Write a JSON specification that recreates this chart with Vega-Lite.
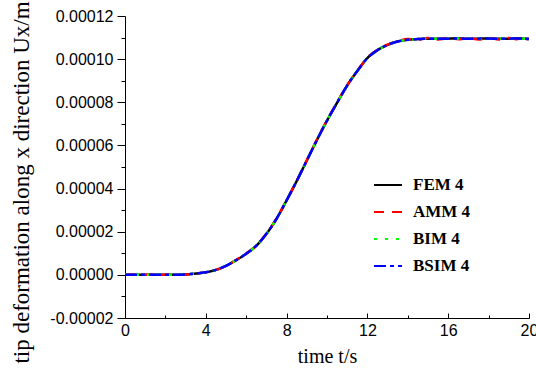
{
  "$schema": "https://vega.github.io/schema/vega-lite/v6.json",
  "width": 404,
  "height": 302,
  "autosize": {"type": "none"},
  "padding": {"left": 125, "top": 16, "right": 7, "bottom": 58},
  "background": "white",
  "config": {
    "view": {"stroke": null},
    "axis": {
      "domainColor": "black",
      "domainWidth": 1,
      "tickColor": "black",
      "tickWidth": 1,
      "labelColor": "black",
      "labelFont": "Liberation Sans",
      "labelFontSize": 16,
      "titleFont": "Liberation Serif",
      "titleFontWeight": "normal",
      "titleColor": "black",
      "grid": false
    }
  },
  "data": {
    "values": [
      {"t": 0, "FEM 4": 0, "AMM 4": 0, "BIM 4": 0, "BSIM 4": 0},
      {"t": 0.5, "FEM 4": 0, "AMM 4": 0, "BIM 4": 0, "BSIM 4": 0},
      {"t": 1, "FEM 4": 0, "AMM 4": 0, "BIM 4": 0, "BSIM 4": 0},
      {"t": 1.5, "FEM 4": 0, "AMM 4": 0, "BIM 4": 0, "BSIM 4": 0},
      {"t": 2, "FEM 4": 0, "AMM 4": 0, "BIM 4": 0, "BSIM 4": 0},
      {"t": 2.5, "FEM 4": 5e-8, "AMM 4": 5e-8, "BIM 4": 5e-8, "BSIM 4": 5e-8},
      {"t": 3, "FEM 4": 2e-7, "AMM 4": 2e-7, "BIM 4": 2e-7, "BSIM 4": 2e-7},
      {"t": 3.5, "FEM 4": 6e-7, "AMM 4": 6e-7, "BIM 4": 6e-7, "BSIM 4": 6e-7},
      {"t": 4, "FEM 4": 1.2e-6, "AMM 4": 1.2e-6, "BIM 4": 1.2e-6, "BSIM 4": 1.2e-6},
      {"t": 4.5, "FEM 4": 2.3e-6, "AMM 4": 2.3e-6, "BIM 4": 2.3e-6, "BSIM 4": 2.3e-6},
      {"t": 5, "FEM 4": 4.2e-6, "AMM 4": 4.2e-6, "BIM 4": 4.2e-6, "BSIM 4": 4.2e-6},
      {"t": 5.5, "FEM 4": 6.8e-6, "AMM 4": 6.9e-6, "BIM 4": 6.8e-6, "BSIM 4": 6.8e-6},
      {"t": 6, "FEM 4": 9.8e-6, "AMM 4": 9.9e-6, "BIM 4": 9.8e-6, "BSIM 4": 9.8e-6},
      {"t": 6.5, "FEM 4": 1.35e-5, "AMM 4": 1.36e-5, "BIM 4": 1.35e-5, "BSIM 4": 1.35e-5},
      {"t": 7, "FEM 4": 1.90e-5, "AMM 4": 1.91e-5, "BIM 4": 1.90e-5, "BSIM 4": 1.90e-5},
      {"t": 7.5, "FEM 4": 2.60e-5, "AMM 4": 2.61e-5, "BIM 4": 2.60e-5, "BSIM 4": 2.60e-5},
      {"t": 8, "FEM 4": 3.45e-5, "AMM 4": 3.46e-5, "BIM 4": 3.45e-5, "BSIM 4": 3.45e-5},
      {"t": 8.5, "FEM 4": 4.35e-5, "AMM 4": 4.36e-5, "BIM 4": 4.35e-5, "BSIM 4": 4.35e-5},
      {"t": 9, "FEM 4": 5.30e-5, "AMM 4": 5.31e-5, "BIM 4": 5.30e-5, "BSIM 4": 5.30e-5},
      {"t": 9.5, "FEM 4": 6.25e-5, "AMM 4": 6.26e-5, "BIM 4": 6.25e-5, "BSIM 4": 6.25e-5},
      {"t": 10, "FEM 4": 7.15e-5, "AMM 4": 7.16e-5, "BIM 4": 7.15e-5, "BSIM 4": 7.15e-5},
      {"t": 10.5, "FEM 4": 7.98e-5, "AMM 4": 7.99e-5, "BIM 4": 7.98e-5, "BSIM 4": 7.98e-5},
      {"t": 11, "FEM 4": 8.78e-5, "AMM 4": 8.79e-5, "BIM 4": 8.78e-5, "BSIM 4": 8.78e-5},
      {"t": 11.5, "FEM 4": 9.45e-5, "AMM 4": 9.46e-5, "BIM 4": 9.45e-5, "BSIM 4": 9.45e-5},
      {"t": 12, "FEM 4": 1.005e-4, "AMM 4": 1.006e-4, "BIM 4": 1.005e-4, "BSIM 4": 1.005e-4},
      {"t": 12.5, "FEM 4": 1.042e-4, "AMM 4": 1.043e-4, "BIM 4": 1.042e-4, "BSIM 4": 1.042e-4},
      {"t": 13, "FEM 4": 1.066e-4, "AMM 4": 1.067e-4, "BIM 4": 1.066e-4, "BSIM 4": 1.066e-4},
      {"t": 13.5, "FEM 4": 1.082e-4, "AMM 4": 1.084e-4, "BIM 4": 1.082e-4, "BSIM 4": 1.082e-4},
      {"t": 14, "FEM 4": 1.090e-4, "AMM 4": 1.093e-4, "BIM 4": 1.090e-4, "BSIM 4": 1.090e-4},
      {"t": 14.5, "FEM 4": 1.093e-4, "AMM 4": 1.090e-4, "BIM 4": 1.093e-4, "BSIM 4": 1.093e-4},
      {"t": 15, "FEM 4": 1.095e-4, "AMM 4": 1.098e-4, "BIM 4": 1.095e-4, "BSIM 4": 1.095e-4},
      {"t": 15.5, "FEM 4": 1.094e-4, "AMM 4": 1.091e-4, "BIM 4": 1.094e-4, "BSIM 4": 1.094e-4},
      {"t": 16, "FEM 4": 1.095e-4, "AMM 4": 1.098e-4, "BIM 4": 1.095e-4, "BSIM 4": 1.095e-4},
      {"t": 16.5, "FEM 4": 1.096e-4, "AMM 4": 1.092e-4, "BIM 4": 1.096e-4, "BSIM 4": 1.096e-4},
      {"t": 17, "FEM 4": 1.094e-4, "AMM 4": 1.098e-4, "BIM 4": 1.094e-4, "BSIM 4": 1.094e-4},
      {"t": 17.5, "FEM 4": 1.095e-4, "AMM 4": 1.091e-4, "BIM 4": 1.095e-4, "BSIM 4": 1.095e-4},
      {"t": 18, "FEM 4": 1.096e-4, "AMM 4": 1.099e-4, "BIM 4": 1.096e-4, "BSIM 4": 1.096e-4},
      {"t": 18.5, "FEM 4": 1.094e-4, "AMM 4": 1.091e-4, "BIM 4": 1.094e-4, "BSIM 4": 1.094e-4},
      {"t": 19, "FEM 4": 1.095e-4, "AMM 4": 1.098e-4, "BIM 4": 1.095e-4, "BSIM 4": 1.095e-4},
      {"t": 19.5, "FEM 4": 1.096e-4, "AMM 4": 1.092e-4, "BIM 4": 1.096e-4, "BSIM 4": 1.096e-4},
      {"t": 20, "FEM 4": 1.093e-4, "AMM 4": 1.095e-4, "BIM 4": 1.093e-4, "BSIM 4": 1.093e-4}
    ]
  },
  "transform": [
    {"fold": ["FEM 4", "AMM 4", "BIM 4", "BSIM 4"], "as": ["series", "u"]}
  ],
  "mark": {"type": "line", "strokeWidth": 2.5, "interpolate": "monotone", "clip": true},
  "encoding": {
    "x": {
      "field": "t",
      "type": "quantitative",
      "scale": {"domain": [0, 20], "nice": false, "zero": false},
      "axis": {
        "title": "time t/s",
        "titleFontSize": 20,
        "titlePadding": 6,
        "values": [0, 2, 4, 6, 8, 10, 12, 14, 16, 18, 20],
        "labelExpr": "datum.value % 4 == 0 ? datum.label : ''",
        "tickSize": {"condition": {"test": "datum.value % 4 == 0", "value": -5}, "value": -3},
        "labelPadding": 9,
        "labelFlush": false,
        "labelOverlap": false
      }
    },
    "y": {
      "field": "u",
      "type": "quantitative",
      "scale": {"domain": [-0.00002, 0.00012], "nice": false, "zero": false},
      "axis": {
        "title": "tip deformation along x direction Ux/m",
        "titleFontSize": 23,
        "titlePadding": 16,
        "titleY": 166,
        "values": [-0.00002, -0.00001, 0, 0.00001, 0.00002, 0.00003, 0.00004, 0.00005, 0.00006, 0.00007, 0.00008, 0.00009, 0.0001, 0.00011, 0.00012],
        "labelExpr": "round(datum.value * 1e5) % 2 == 0 ? (datum.value < 0 ? '-' : '') + format(abs(datum.value), '.5f') : ''",
        "tickSize": {"condition": {"test": "round(datum.value * 1e5) % 2 == 0", "value": 8}, "value": 4},
        "labelPadding": 4,
        "labelFlush": false,
        "labelOverlap": false
      }
    },
    "color": {
      "field": "series",
      "type": "nominal",
      "scale": {"domain": ["FEM 4", "AMM 4", "BIM 4", "BSIM 4"], "range": ["#000000", "#ff0000", "#00ff00", "#0000ff"]},
      "legend": {
        "title": null,
        "orient": "none",
        "legendX": 248,
        "legendY": 154,
        "padding": 0,
        "symbolType": "stroke",
        "symbolSize": 784,
        "symbolStrokeWidth": 2,
        "labelFont": "Liberation Serif",
        "labelFontWeight": "bold",
        "labelFontSize": 17,
        "labelColor": "black",
        "labelOffset": 10,
        "rowPadding": 4
      }
    },
    "strokeDash": {
      "field": "series",
      "type": "nominal",
      "scale": {"domain": ["FEM 4", "AMM 4", "BIM 4", "BSIM 4"], "range": [[1, 0], [10, 8], [3, 8], [12, 4, 4, 4]]},
      "legend": {
        "title": null,
        "orient": "none",
        "legendX": 248,
        "legendY": 154,
        "padding": 0,
        "symbolType": "stroke",
        "symbolSize": 784,
        "symbolStrokeWidth": 2,
        "labelFont": "Liberation Serif",
        "labelFontWeight": "bold",
        "labelFontSize": 17,
        "labelColor": "black",
        "labelOffset": 10,
        "rowPadding": 4
      }
    },
    "order": {"field": "series", "sort": "ascending"}
  }
}
